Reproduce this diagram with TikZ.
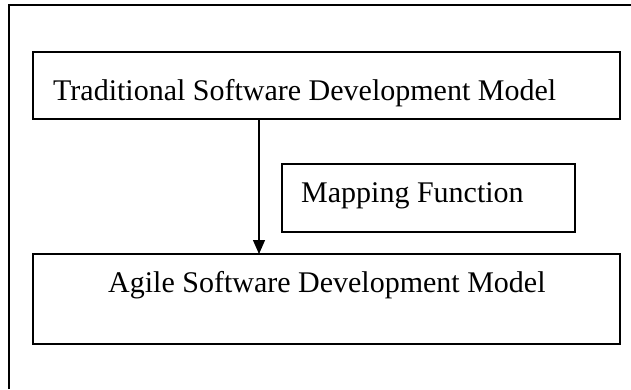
\documentclass[tikz,border=0pt]{standalone}
\usepackage{fontspec}
\setmainfont{Liberation Serif}
\usetikzlibrary{arrows.meta}
\begin{document}
\begin{tikzpicture}[x=1pt,y=-1pt,
  frameline/.style={line width=1.5pt},
  box/.style={draw,line width=1.5pt,rectangle,inner sep=0pt,outer sep=0pt},
  label/.style={anchor=base west,inner sep=0pt,font=\fontsize{30}{36}\selectfont},
  flow/.style={line width=1.3pt,-{Triangle[length=14pt,width=12pt]}}]
  \useasboundingbox (0,0) rectangle (631,389);
  % surrounding frame, open to the right and bottom
  \coordinate (fbl) at (9,389);
  \coordinate (ftl) at (9,5);
  \coordinate (ftr) at (631,5);
  \draw[frameline] (fbl) -- (ftl) -- (ftr);
  % boxes
  \node[box,minimum width=587pt,minimum height=67pt] (trad) at (326.5,85.5) {};
  \node[box,minimum width=293pt,minimum height=68pt] (map) at (428.5,198) {};
  \node[box,minimum width=587pt,minimum height=90pt] (agile) at (326.5,299) {};
  % texts
  \node[label] (tradtxt) at (53,100) {Traditional Software Development Model};
  \node[label] (maptxt) at (301,202) {Mapping Function};
  \node[label] (agiletxt) at (108,292) {Agile Software Development Model};
  % connector
  \coordinate (ax) at (259,0);
  \draw[flow] (trad.south -| ax) -- (agile.north -| ax);
\end{tikzpicture}
\end{document}
